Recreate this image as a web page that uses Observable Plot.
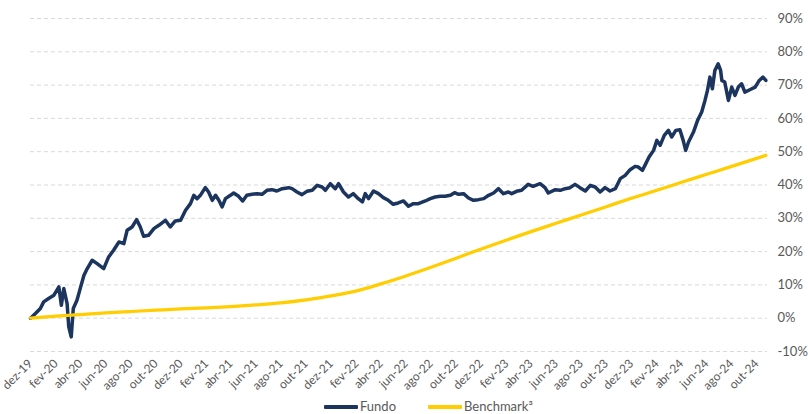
<!DOCTYPE html>
<html><head><meta charset="utf-8">
<script src="https://cdn.jsdelivr.net/npm/d3@7"></script>
<script src="https://cdn.jsdelivr.net/npm/@observablehq/plot@0.6"></script>
<style>
body{margin:0;background:#fff;font-family:Lato,sans-serif;}
#chart{position:relative;width:808px;height:414px;overflow:hidden;}
.item{position:absolute;top:399px;height:15px;line-height:15px;display:flex;align-items:center;font-size:13px;color:#595959;font-family:Lato,sans-serif;}
.sw{display:inline-block;width:34px;height:4px;margin-right:2px;border-radius:1px;}
</style></head><body><div id="chart"></div>
<script>
const monthNames = ["jan","fev","mar","abr","mai","jun","jul","ago","set","out","nov","dez"];
const yTicks = [-10,0,10,20,30,40,50,60,70,80,90];
const seriesNames = ["Fundo","Benchmark³"];
const seriesColors = ["#1c355e","#ffcd00"];

const fundoDates = [
"2019-12-01","2019-12-13","2019-12-25","2020-01-02","2020-01-14","2020-01-27","2020-02-08","2020-02-14","2020-02-20","2020-02-28",
"2020-03-03","2020-03-09","2020-03-14","2020-03-23","2020-04-01","2020-04-09","2020-04-17","2020-04-29","2020-05-11","2020-05-27",
"2020-06-08","2020-06-20","2020-07-03","2020-07-15","2020-07-23","2020-08-04","2020-08-15","2020-08-24","2020-09-01","2020-09-13",
"2020-09-26","2020-10-08",
"2020-10-24","2020-11-05","2020-11-17","2020-11-30","2020-12-12","2020-12-24","2021-01-01","2021-01-09","2021-01-17","2021-01-29",
"2021-02-06","2021-02-15","2021-02-23","2021-03-03","2021-03-11","2021-03-19","2021-03-31","2021-04-08","2021-04-20","2021-04-30",
"2021-05-10","2021-05-23","2021-06-04","2021-06-16","2021-06-28","2021-07-10","2021-07-22","2021-08-04","2021-08-20",
"2021-08-28","2021-09-09","2021-09-21","2021-10-03","2021-10-16","2021-10-28","2021-11-09","2021-11-17","2021-11-29","2021-12-11",
"2021-12-19","2021-12-31","2022-01-12","2022-01-24","2022-02-05","2022-02-15","2022-02-22","2022-03-02","2022-03-14","2022-03-26",
"2022-04-07","2022-04-19","2022-05-01","2022-05-13","2022-05-26","2022-06-07","2022-06-19","2022-07-01",
"2022-07-18","2022-07-30","2022-08-11","2022-08-23","2022-09-04","2022-09-17","2022-09-27","2022-10-07","2022-10-19","2022-10-31",
"2022-11-12","2022-11-24","2022-12-07","2022-12-19","2022-12-31","2023-01-12","2023-01-24","2023-02-05","2023-02-13","2023-02-25",
"2023-03-09","2023-03-25","2023-04-06","2023-04-23","2023-05-05","2023-05-13",
"2023-05-30","2023-06-11","2023-06-23","2023-07-05","2023-07-17","2023-07-29","2023-08-11","2023-08-23","2023-09-04","2023-09-16",
"2023-09-28","2023-10-10","2023-10-23","2023-11-04","2023-11-16","2023-11-28","2023-12-10","2023-12-18","2023-12-28",
"2024-01-03","2024-01-13","2024-01-24","2024-02-01","2024-02-09","2024-02-19","2024-02-29","2024-03-08","2024-03-18","2024-03-28",
"2024-04-05","2024-04-11","2024-04-18","2024-04-30","2024-05-10","2024-05-20","2024-05-28","2024-06-03","2024-06-09","2024-06-15",
"2024-06-21","2024-06-29","2024-07-05","2024-07-08","2024-07-15","2024-07-24","2024-08-01","2024-08-09","2024-08-17","2024-08-25",
"2024-09-02","2024-09-14","2024-09-27","2024-10-07","2024-10-16","2024-10-23"
];
const fundoValues = [
0.0,1.4,2.9,4.9,5.9,6.9,9.4,3.9,8.9,4.4,
-2.6,-5.6,2.9,5.4,9.4,12.9,14.9,17.4,16.4,14.9,
18.4,20.4,22.9,22.4,26.4,27.4,29.6,27.4,24.6,24.9,
26.9,27.9,
29.4,27.4,29.2,29.4,32.4,34.4,36.9,35.9,36.9,39.2,
37.9,35.4,36.9,35.4,33.4,35.9,36.9,37.6,36.6,35.2,
36.9,37.2,37.4,37.2,38.4,38.6,38.2,38.9,39.2,
38.9,37.9,37.1,38.1,38.4,39.9,39.4,38.4,40.4,38.9,
40.4,37.9,36.4,37.4,35.9,34.9,37.4,35.9,38.2,37.4,
36.2,35.4,34.2,34.6,35.2,33.6,34.4,34.4,
35.2,35.9,36.4,36.6,36.6,36.9,37.7,37.2,37.4,36.1,
35.4,35.6,35.9,36.9,37.6,38.9,37.4,37.9,37.4,38.1,
38.4,40.2,39.6,40.4,39.2,37.6,
38.6,38.4,38.9,39.2,40.2,39.2,38.2,39.9,39.4,37.9,
39.2,38.2,38.9,41.9,42.9,44.6,45.6,45.4,44.4,
45.9,48.4,50.4,53.4,51.9,54.9,56.4,54.4,56.4,56.6,
53.4,50.4,52.9,55.9,59.4,61.9,65.4,68.4,72.4,68.9,
74.4,76.4,74.4,71.4,70.9,65.4,69.4,66.9,69.4,70.4,
67.9,68.6,69.4,71.4,72.4,71.4
];

const benchDates = [
"2019-12-01","2020-02-01","2020-04-01","2020-06-01","2020-08-01","2020-10-01","2020-12-01","2021-02-01","2021-04-01","2021-06-01",
"2021-08-01","2021-10-01","2021-12-01","2022-02-01","2022-04-01","2022-06-01","2022-08-01","2022-10-01","2022-12-01","2023-02-01",
"2023-04-01","2023-06-01","2023-08-01","2023-10-01","2023-12-01","2024-02-01","2024-04-01","2024-06-01","2024-08-01","2024-10-23"
];
const benchValues = [
0.0,0.6,1.1,1.6,2.0,2.4,2.8,3.1,3.5,4.0,
4.6,5.5,6.7,8.2,10.3,12.7,15.3,18.0,20.8,23.5,
26.0,28.5,31.0,33.5,36.0,38.4,40.8,43.2,45.6,48.9
];

const fundo = fundoDates.map((d,i)=>({date:new Date(d), value:fundoValues[i]}));
const bench = benchDates.map((d,i)=>({date:new Date(d), value:benchValues[i]}));

const xStart = new Date("2019-12-01"), xEnd = new Date("2024-10-27");
const xTicks = d3.utcMonth.range(xStart, new Date("2024-11-01"), 2);

const chart = Plot.plot({
  width: 808, height: 398,
  marginLeft: 30, marginRight: 41, marginTop: 18, marginBottom: 47,
  x: {type: "utc", domain: [xStart, xEnd], label: null},
  y: {domain: [-10, 90], label: null},
  style: {fontFamily: "Lato, sans-serif", color: "#595959", background: "#fff", overflow: "visible"},
  marks: [
    Plot.gridY(yTicks, {stroke: "#d9d9d9", strokeOpacity: 1, strokeDasharray: "4,3", strokeWidth: 1}),
    Plot.line(fundo, {x: "date", y: "value", stroke: seriesColors[0], strokeWidth: 3.5, strokeLinejoin: "round"}),
    Plot.line(bench, {x: "date", y: "value", stroke: seriesColors[1], strokeWidth: 3.2, curve: "monotone-x"}),
    Plot.axisY(yTicks, {anchor: "right", label: null, tickSize: 0, tickPadding: 10, fontSize: 13, fill: "#595959", tickFormat: d => d + "%"}),
    Plot.axisX(xTicks, {anchor: "bottom", label: null, tickSize: 0, tickPadding: 10, tickRotate: -45, fontSize: 12, fill: "#595959",
      tickFormat: d => monthNames[d.getUTCMonth()] + "-" + String(d.getUTCFullYear()).slice(2)})
  ]
});
const root = document.getElementById("chart");
root.appendChild(chart);
const lefts = [324, 428];
seriesNames.forEach((n,i)=>{
  const it = document.createElement("div");
  it.className = "item";
  it.style.left = lefts[i] + "px";
  it.innerHTML = `<span class="sw" style="background:${seriesColors[i]}"></span><span>${n}</span>`;
  root.appendChild(it);
});
</script></body></html>
